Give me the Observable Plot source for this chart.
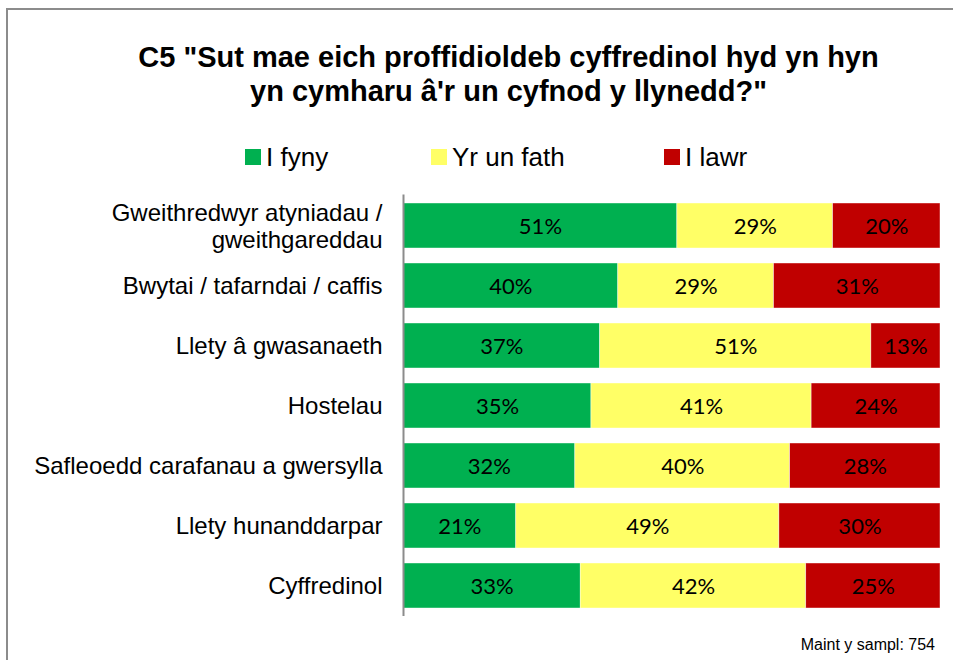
<!DOCTYPE html>
<html>
<head>
<meta charset="utf-8">
<script src="https://cdn.jsdelivr.net/npm/d3@7"></script>
<script src="https://cdn.jsdelivr.net/npm/@observablehq/plot@0.6"></script>
<style>
  html, body { margin: 0; padding: 0; background: #fff; }
  #wrap { position: relative; width: 953px; height: 660px; overflow: hidden; font-family: "Liberation Sans", Arial, sans-serif; }
  #frame { position: absolute; left: 6px; top: 8px; width: 1000px; height: 700px; border-top: 2px solid #8c8c8c; border-left: 2px solid #8c8c8c; }
  #title { position: absolute; left: 0; width: 1017px; top: 40px; text-align: center; font-weight: bold; font-size: 29px; line-height: 34px; color: #000; letter-spacing: 0px; }
  .leg { position: absolute; top: 142px; height: 30px; font-size: 26px; line-height: 30px; display: flex; align-items: center; color: #000; }
  .sw { width: 16px; height: 16px; margin-right: 5px; }
  #caption { position: absolute; right: 18px; top: 636px; font-size: 16px; line-height: 18px; color: #000; }
  #chart { position: absolute; left: 0; top: 0; }
</style>
</head>
<body>
<div id="wrap">
  <div id="frame"></div>
  <div id="title"></div>
  <div id="legend"></div>
  <div id="chart"></div>
  <div id="caption"></div>
</div>
<script>
const categories = [
  "Gweithredwyr atyniadau /\ngweithgareddau",
  "Bwytai / tafarndai / caffis",
  "Llety â gwasanaeth",
  "Hostelau",
  "Safleoedd carafanau a gwersylla",
  "Llety hunanddarpar",
  "Cyffredinol"
];
const series = ["I fyny", "Yr un fath", "I lawr"];
const colors = ["#00B050", "#FFFF66", "#C00000"];
const upValues   = [51, 40, 37, 35, 32, 21, 33];
const sameValues = [29, 29, 51, 41, 40, 49, 42];
const downValues = [20, 31, 13, 24, 28, 30, 25];
const titleLines = ["C5 \"Sut mae eich proffidioldeb cyffredinol hyd yn hyn", "yn cymharu â'r un cyfnod y llynedd?\""];
const captionText = "Maint y sampl: 754";
const legendX = [245, 431, 664];

const seriesValues = [upValues, sameValues, downValues];
const rows = [];
categories.forEach((c, i) => {
  series.forEach((s, j) => rows.push({cat: c, series: s, value: seriesValues[j][i]}));
});

document.getElementById("title").innerHTML = titleLines.join("<br>");
document.getElementById("caption").textContent = captionText;
const legend = document.getElementById("legend");
series.forEach((s, j) => {
  const d = document.createElement("div");
  d.className = "leg";
  d.style.left = legendX[j] + "px";
  d.innerHTML = `<div class="sw" style="background:${colors[j]}"></div><span>${s}</span>`;
  legend.appendChild(d);
});

const chart = Plot.plot({
  width: 953,
  height: 660,
  marginTop: 194.5,
  marginBottom: 44,
  marginLeft: 403,
  marginRight: 13,
  style: { background: "transparent", overflow: "visible" },
  x: { domain: [0, 1], axis: null },
  y: { domain: categories, paddingInner: 0.25, paddingOuter: 0.125, label: null },
  color: { domain: series, range: colors },
  marks: [
    Plot.barX(rows, Plot.stackX({x: "value", y: "cat", fill: "series", offset: "normalize", stroke: "#fff", strokeWidth: 0.6, strokeOpacity: 0.7})),
    Plot.text(rows, Plot.stackX({x: "value", y: "cat", z: "series", offset: "normalize", text: d => d.value + "%", fill: "#000", fontSize: 22, fontFamily: "Lato, 'Open Sans', sans-serif", dy: 1})),
    Plot.ruleX([0], {stroke: "#8c8c8c", strokeWidth: 2}),
    Plot.axisY({tickSize: 0, tickPadding: 21, fontSize: 24, lineHeight: 1.1, fontFamily: "'Liberation Sans', Arial, sans-serif", fill: "#000", label: null})
  ]
});
document.getElementById("chart").appendChild(chart);
</script>
</body>
</html>
